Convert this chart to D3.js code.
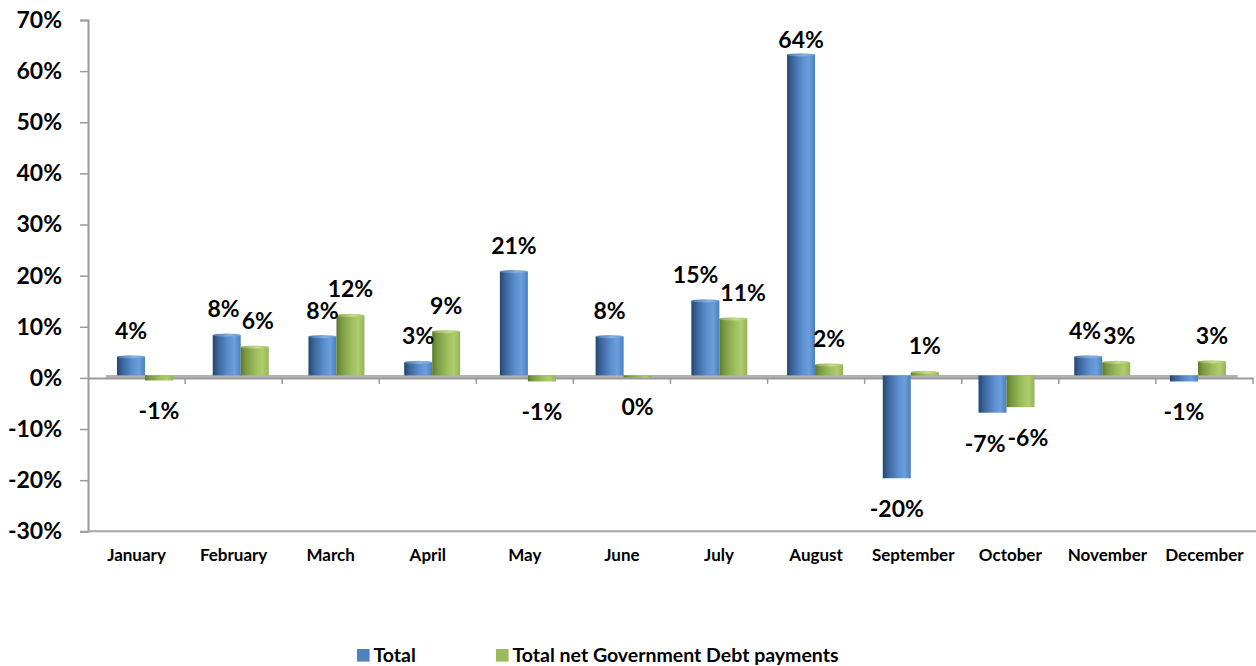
<!DOCTYPE html>
<html>
<head>
<meta charset="utf-8">
<script src="https://cdn.jsdelivr.net/npm/d3@7"></script>
<style>
  html, body { margin: 0; padding: 0; background: #fff; }
  svg { display: block; font-family: Lato, "Open Sans", sans-serif; font-weight: bold; }
</style>
</head>
<body>
<svg id="chart" width="1256" height="666"></svg>
<script>
// Monthly change, per cent
const months = ["January", "February", "March", "April", "May", "June",
                "July", "August", "September", "October", "November", "December"];
const seriesNames = ["Total", "Total net Government Debt payments"];
const totalValues = [3.7, 8.0, 7.7, 2.6, 20.6, 7.7, 14.8, 63.6, -20.4, -7.4, 3.7, -1.2];
const debtValues  = [-1.0, 5.6, 11.9, 8.7, -1.2, -0.2, 11.2, 2.1, 0.6, -6.3, 2.6, 2.7];
const yTicks = [-30, -20, -10, 0, 10, 20, 30, 40, 50, 60, 70];

const svg = d3.select("#chart");
const plot = { left: 88, right: 1253, top: 20, bottom: 531.3 };

// axis scales (front wall)
const y = d3.scaleLinear().domain([-30, 70]).range([plot.bottom, plot.top]);
const x0 = d3.scaleBand().domain(months).range([plot.left, plot.right]).padding(0);

// the bars stand on a floor seen in perspective: slightly smaller scale,
// shifted right and up from the front axes
const depth = 0.986;
const floorY = y(0) - 2.5;
const yBar = d3.scaleLinear().domain([0, 1]).range([floorY, floorY - (y(0) - y(1)) * depth]);
const xBar = d3.scaleBand().domain(months)
  .range([117, 117 + (plot.right - plot.left) * depth]).padding(0);
const x1 = d3.scaleBand().domain(seriesNames).range([0, 56]).padding(0);

const fmtPct = v => `${Math.round(v)}%`;   // hyphen minus, "0%" for tiny negatives

const defs = svg.append("defs");
function cylGradient(id, stops) {
  const g = defs.append("linearGradient").attr("id", id)
    .attr("x1", "0%").attr("x2", "100%").attr("y1", "0%").attr("y2", "0%");
  stops.forEach(([o, c]) => g.append("stop").attr("offset", o).attr("stop-color", c));
}
cylGradient("gBlue", [["0%", "#25466f"], ["18%", "#3a6399"], ["55%", "#5b8fcf"], ["78%", "#6a9edc"], ["100%", "#4e7fbd"]]);
cylGradient("gGreen", [["0%", "#5d7a2c"], ["18%", "#7a9a42"], ["55%", "#9ebf5e"], ["78%", "#aecd6d"], ["100%", "#93b356"]]);
cylGradient("gBlueTop", [["0%", "#4c78b2"], ["60%", "#86b0e4"], ["100%", "#6c98d0"]]);
cylGradient("gGreenTop", [["0%", "#8aa950"], ["60%", "#c4dd8d"], ["100%", "#a7c56a"]]);
const fills = { "Total": ["url(#gBlue)", "url(#gBlueTop)"], "Total net Government Debt payments": ["url(#gGreen)", "url(#gGreenTop)"] };
const legendColors = { "Total": "#4f81bd", "Total net Government Debt payments": "#9bbb59" };

// value axis
const yAxis = svg.append("g").attr("transform", `translate(${plot.left},0)`)
  .call(d3.axisLeft(y).tickValues(yTicks).tickSize(8).tickPadding(18).tickFormat(fmtPct));
yAxis.select(".domain").attr("stroke", "#9a9a9a").attr("stroke-width", 2);
yAxis.selectAll(".tick line").attr("stroke", "#9a9a9a").attr("stroke-width", 1.5);
yAxis.selectAll(".tick text").attr("fill", "#000").attr("font-size", 23)
  .attr("font-weight", "bold").attr("font-family", "Lato, sans-serif");

// bottom edge of the plot
svg.append("line").attr("x1", plot.left).attr("x2", 1256)
  .attr("y1", plot.bottom).attr("y2", plot.bottom)
  .attr("stroke", "#a6a6a6").attr("stroke-width", 2);

// floor edge and category axis at zero
svg.append("line")
  .attr("x1", xBar.range()[0] - 11).attr("x2", xBar.range()[1] - 28)
  .attr("y1", floorY + 1).attr("y2", floorY + 1)
  .attr("stroke", "#b3b3b3").attr("stroke-width", 3);
const xAxis = svg.append("g").attr("transform", `translate(0,${y(0)})`)
  .call(d3.axisBottom(x0).tickSize(0).tickFormat(""));
xAxis.select(".domain").attr("stroke", "#9a9a9a").attr("stroke-width", 2);
xAxis.selectAll(".tick").remove();
const boundaries = months.map(m => x0(m)).concat([plot.right]);
svg.append("g").selectAll("line").data(boundaries.slice(1)).join("line")
  .attr("x1", d => d).attr("x2", d => d)
  .attr("y1", y(0)).attr("y2", y(0) + 6)
  .attr("stroke", "#9a9a9a").attr("stroke-width", 1.5);

// month names
svg.append("g").selectAll("text").data(months).join("text")
  .attr("x", d => x0(d) + x0.bandwidth() / 2)
  .attr("y", 561)
  .attr("text-anchor", "middle")
  .attr("font-size", 17)
  .attr("fill", "#000")
  .text(d => d);

// bars
const rows = months.map((m, i) => ({
  month: m,
  items: [
    { series: seriesNames[0], value: totalValues[i] },
    { series: seriesNames[1], value: debtValues[i] }
  ]
}));

const groups = svg.append("g").selectAll("g").data(rows).join("g")
  .attr("transform", d => `translate(${xBar(d.month)},0)`);

groups.each(function (row) {
  const g = d3.select(this);
  row.items.forEach(it => {
    const bx = x1(it.series), bw = x1.bandwidth();
    const yTop = Math.min(yBar(it.value), yBar(0));
    const yBot = Math.max(yBar(it.value), yBar(0));
    g.append("rect").attr("x", bx).attr("y", yTop)
      .attr("width", bw).attr("height", Math.max(yBot - yTop, 2))
      .attr("fill", fills[it.series][0]);
    if (it.value > 0) {
      // rounded cap on the top of a rising column
      g.append("ellipse").attr("cx", bx + bw / 2).attr("cy", yTop)
        .attr("rx", bw / 2).attr("ry", 1.6)
        .attr("fill", fills[it.series][1]);
    }
  });
});

// value labels
const labelLayer = svg.append("g");
rows.forEach(row => {
  const placed = row.items.map(it => {
    const cx = xBar(row.month) + x1(it.series) + x1.bandwidth() / 2;
    let cy = it.value >= 0 ? yBar(it.value) - 26 : yBar(it.value) + 31;
    cy = Math.max(cy, 40);
    const t = labelLayer.append("text")
      .attr("x", cx).attr("y", cy + 8)
      .attr("text-anchor", "middle")
      .attr("font-size", 23)
      .attr("fill", "#000")
      .text(fmtPct(it.value));
    return { t, cx, cy, w: t.node().getComputedTextLength() };
  });
  // pull apart labels of the same month that would collide
  const [a, b] = placed;
  if (Math.abs(a.cy - b.cy) < 21) {
    const need = (a.w + b.w) / 2 + 2 - (b.cx - a.cx);
    if (need > 0) {
      a.t.attr("x", a.cx - need / 2);
      b.t.attr("x", b.cx + need / 2);
    }
  }
});

// legend
const legendItems = [
  { name: seriesNames[0], x: 357 },
  { name: seriesNames[1], x: 496 }
];
const lg = svg.append("g").selectAll("g").data(legendItems).join("g")
  .attr("transform", d => `translate(${d.x},649)`);
lg.append("rect").attr("width", 12.6).attr("height", 12.6)
  .attr("fill", d => legendColors[d.name]);
lg.append("text").attr("x", 16.5).attr("y", 12.8)
  .attr("font-size", 19.5).attr("fill", "#000")
  .text(d => d.name);
</script>
</body>
</html>
